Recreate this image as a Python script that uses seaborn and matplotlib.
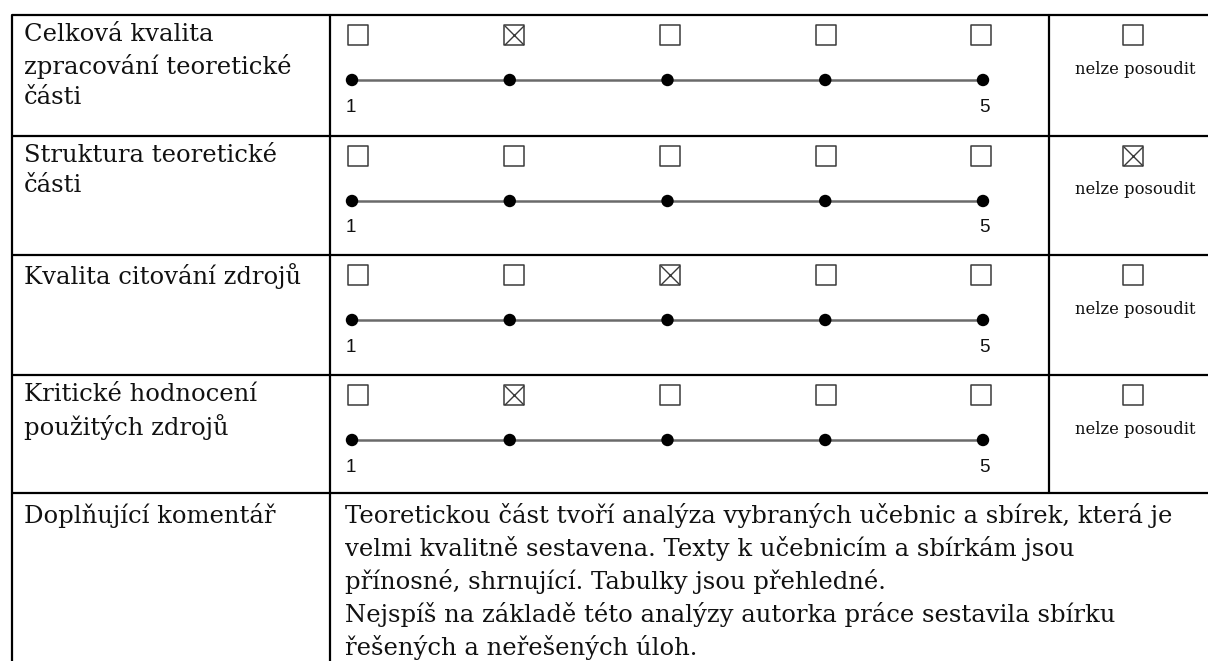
import pandas as pd
import matplotlib.pyplot as plt
import seaborn as sns
import numpy as np

# Data: the evaluation form
kriteria = [
    "Celková kvalita\nzpracování teoretické\nčásti",
    "Struktura teoretické\nčásti",
    "Kvalita citování zdrojů",
    "Kritické hodnocení\npoužitých zdrojů",
]
hodnoceni = [2, None, 3, 2]          # None = "nelze posoudit"
skala = [1, 2, 3, 4, 5]
skala_popisky = ["1", "5"]
nelze_text = "nelze posoudit"
komentar_nadpis = "Doplňující komentář"
komentar_text = ("Teoretickou část tvoří analýza vybraných učebnic a sbírek, která je\n"
                 "velmi kvalitně sestavena. Texty k učebnicím a sbírkám jsou\n"
                 "přínosné, shrnující. Tabulky jsou přehledné.\n"
                 "Nejspíš na základě této analýzy autorka práce sestavila sbírku\n"
                 "řešených a neřešených úloh.")

# Layout (pixels)
W, H = 1208, 661
row_top = [15, 136, 255, 375, 493]
x_left, x_div1, x_div2, x_right = 12, 330, 1049, 1208
x_nelze = 1133
dot_px0, dot_step = 352, 157.75

sns.set_theme(style="white")
plt.rcParams['font.family'] = ['DejaVu Serif']
serif = 'DejaVu Serif'
sans = 'Liberation Sans'
fs_text = 17.5
ls_text = 1.40

fig = plt.figure(figsize=(W / 100, H / 100), dpi=100)
bg = fig.add_axes([0, 0, 1, 1])
bg.set_xlim(0, W)
bg.set_ylim(H, 0)
bg.axis('off')

# middle axes: x in scale units
mid = fig.add_axes([x_div1 / W, 0, (x_div2 - x_div1) / W, 1])
mid.set_xlim(1 - (dot_px0 - x_div1) / dot_step, 1 + (x_div2 - dot_px0) / dot_step)
mid.set_ylim(H, 0)
mid.axis('off')

lw = 1.6
# table grid
for y in row_top:
    bg.plot([x_left, x_right], [y, y], color='black', lw=lw, solid_capstyle='butt')
bg.plot([x_left, x_left], [row_top[0], H], color='black', lw=lw)
bg.plot([x_div1, x_div1], [row_top[0], H], color='black', lw=lw)
bg.plot([x_div2, x_div2], [row_top[0], row_top[4]], color='black', lw=lw)

box_size = 15
for i, (krit, val) in enumerate(zip(kriteria, hodnoceni)):
    top = row_top[i]
    bg.text(24, top + 8, krit, family=serif, fontsize=fs_text, va='top', ha='left',
            linespacing=ls_text, color='#111111')

    df = pd.DataFrame({'hodnota': skala, 'y': top + 65})
    sns.lineplot(data=df, x='hodnota', y='y', ax=mid, color='#6a6a6a', lw=1.8,
                 legend=False, zorder=2)
    sns.scatterplot(data=df, x='hodnota', y='y', ax=mid, color='black', s=80,
                    edgecolor='none', legend=False, zorder=3)

    # checkboxes above the scale
    bx = pd.DataFrame({'hodnota': np.array(skala) + (6 - 1.9 * (np.array(skala) - 1)) / dot_step,
                       'y': top + 20})
    mid.scatter(bx['hodnota'], bx['y'], marker='s', s=box_size ** 2, facecolor='white',
                edgecolor='#3a3a3a', lw=1.1, zorder=3)
    if val is not None:
        sel = bx[bx['hodnota'].round().astype(int) == val]
        mid.scatter(sel['hodnota'], sel['y'], marker='x', s=(box_size * 0.92) ** 2,
                    color='#3a3a3a', lw=1.0, zorder=4)

    mid.text(skala[0] - 0.04, top + 92, skala_popisky[0], family=sans, fontsize=13.5,
             ha='left', va='center', color='#111111')
    mid.text(skala[-1] + 0.01, top + 92, skala_popisky[1], family=sans, fontsize=13.5,
             ha='center', va='center', color='#111111')

    # "nelze posoudit" column
    bg.scatter([x_nelze], [top + 20], marker='s', s=box_size ** 2, facecolor='white',
               edgecolor='#3a3a3a', lw=1.1, zorder=3)
    if val is None:
        bg.scatter([x_nelze], [top + 20], marker='x', s=(box_size * 0.92) ** 2,
                   color='#3a3a3a', lw=1.0, zorder=4)
    bg.text(x_nelze + 2, top + 54, nelze_text, family=serif, fontsize=11.8,
            ha='center', va='center', color='#111111')

# comment row
bg.text(24, row_top[4] + 10, komentar_nadpis, family=serif, fontsize=fs_text, va='top',
        ha='left', color='#111111')
bg.text(345, row_top[4] + 10, komentar_text, family=serif, fontsize=fs_text, va='top',
        ha='left', linespacing=ls_text, color='#111111')

fig.savefig('out.png', dpi=100, facecolor='white')
